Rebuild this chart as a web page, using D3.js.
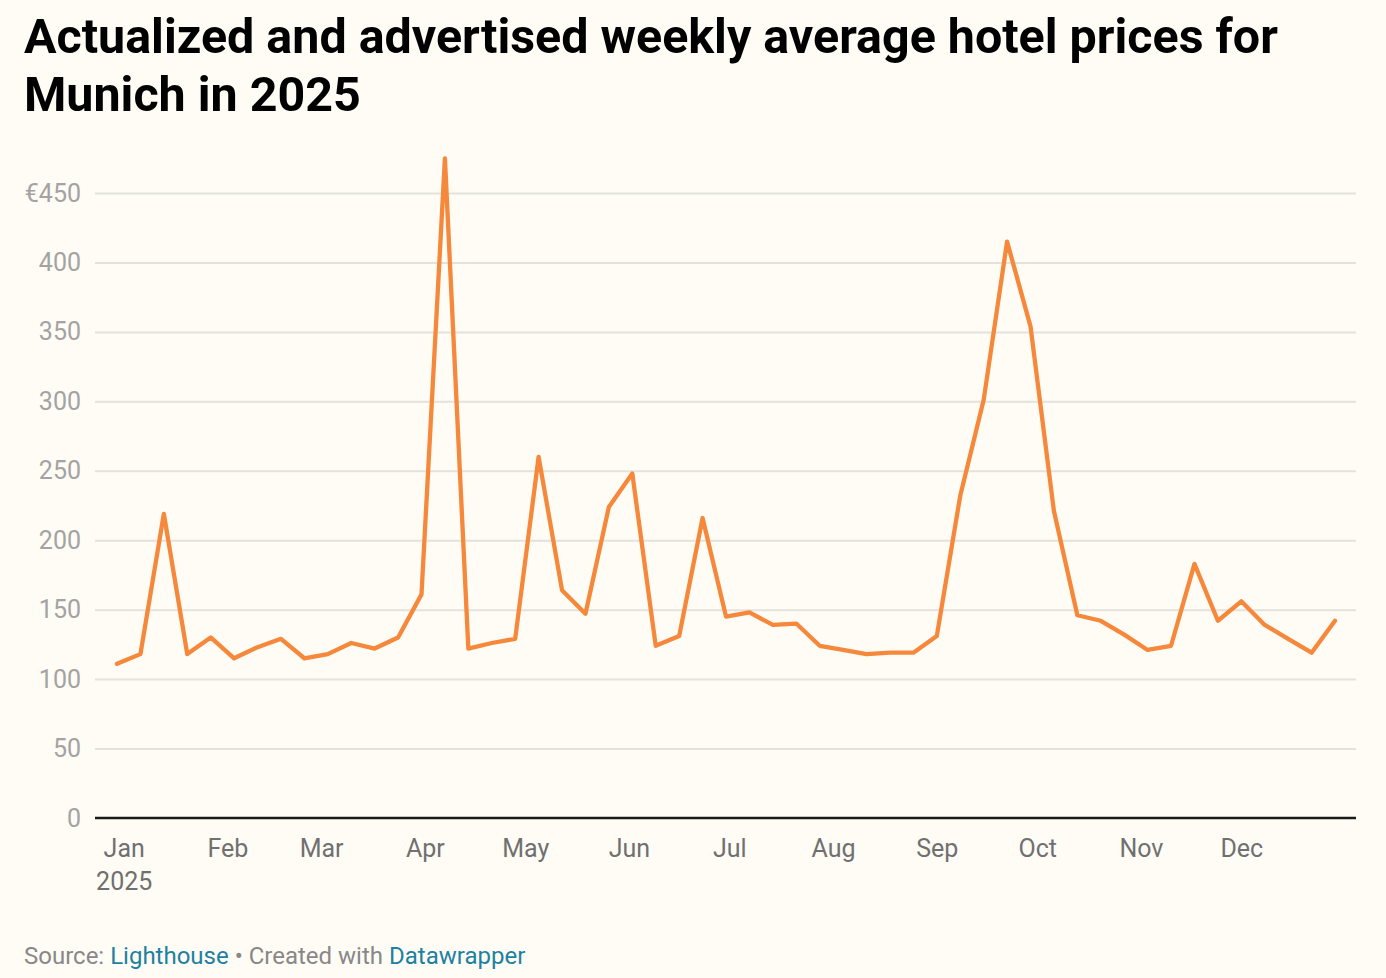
<!DOCTYPE html>
<html>
<head>
<meta charset="utf-8">
<script src="https://cdn.jsdelivr.net/npm/d3@7"></script>
<style>
  body { margin: 0; background: #fffcf5; }
  svg { display: block; font-family: Roboto, "Noto Sans", sans-serif; }
</style>
</head>
<body>
<svg id="chart" width="1386" height="978"></svg>
<script>
// weekly averages, week starting on the Monday below
const weekStarts = [
  "2024-12-30", "2025-01-06", "2025-01-13", "2025-01-20", "2025-01-27",
  "2025-02-03", "2025-02-10", "2025-02-17", "2025-02-24",
  "2025-03-03", "2025-03-10", "2025-03-17", "2025-03-24", "2025-03-31",
  "2025-04-07", "2025-04-14", "2025-04-21", "2025-04-28",
  "2025-05-05", "2025-05-12", "2025-05-19", "2025-05-26",
  "2025-06-02", "2025-06-09", "2025-06-16", "2025-06-23", "2025-06-30",
  "2025-07-07", "2025-07-14", "2025-07-21", "2025-07-28",
  "2025-08-04", "2025-08-11", "2025-08-18", "2025-08-25",
  "2025-09-01", "2025-09-08", "2025-09-15", "2025-09-22", "2025-09-29",
  "2025-10-06", "2025-10-13", "2025-10-20", "2025-10-27",
  "2025-11-03", "2025-11-10", "2025-11-17", "2025-11-24",
  "2025-12-01", "2025-12-08", "2025-12-15", "2025-12-22", "2025-12-29"
];

const prices = [
  111, 118, 219, 118, 130,
  115, 123, 129, 115,
  118, 126, 122, 130, 161,
  475, 122, 126, 129,
  260, 164, 147, 224,
  248, 124, 131, 216, 145,
  148, 139, 140, 124,
  121, 118, 119, 119,
  131, 232, 301, 415, 354,
  221, 146, 142, 132,
  121, 124, 183, 142,
  156, 139, 129, 119, 142
];

const yTicks = [0, 50, 100, 150, 200, 250, 300, 350, 400, 450];
const monthLabels = ["Jan", "Feb", "Mar", "Apr", "May", "Jun",
                     "Jul", "Aug", "Sep", "Oct", "Nov", "Dec"];
const titleLines = ["Actualized and advertised weekly average hotel prices for",
                    "Munich in 2025"];

const parse = d3.timeParse("%Y-%m-%d");
const data = weekStarts.map((d, i) => ({date: parse(d), value: prices[i]}));

const plot = {left: 95, right: 1356, top: 193, bottom: 818, pad: 22};

const x = d3.scaleTime()
  .domain(d3.extent(data, d => d.date))
  .range([plot.left + plot.pad, plot.right - plot.pad + 1]);

const y = d3.scaleLinear()
  .domain([0, 450])
  .range([plot.bottom, plot.top]);

const svg = d3.select("#chart");

svg.append("rect")
  .attr("width", 1386).attr("height", 978)
  .attr("fill", "#fffcf5");

// title
svg.append("g")
  .selectAll("text")
  .data(titleLines).enter()
  .append("text")
  .attr("x", 24)
  .attr("y", (d, i) => 53 + i * 58)
  .attr("font-size", 48.4)
  .attr("font-weight", 700)
  .attr("fill", "#000")
  .text(d => d);

// y axis + gridlines
let yAxis = svg.append("g")
  .attr("transform", `translate(${plot.left},0)`)
  .call(d3.axisLeft(y)
    .tickValues(yTicks)
    .tickSize(-(plot.right - plot.left))
    .tickPadding(14)
    .tickFormat(d => d === 450 ? "€450" : d));

yAxis.select(".domain").remove();
yAxis.selectAll(".tick line")
  .attr("stroke", "#e4e2dd")
  .attr("stroke-width", 2);
yAxis.selectAll(".tick text")
  .attr("font-size", 25)
  .attr("font-family", "Roboto")
  .attr("fill", "#a3a3a3");

// baseline
svg.append("line")
  .attr("x1", plot.left).attr("x2", plot.right)
  .attr("y1", y(0)).attr("y2", y(0))
  .attr("stroke", "#1a1a1a")
  .attr("stroke-width", 2.5);
yAxis.selectAll(".tick").filter(d => d === 0).select("line").remove();

// x axis
const months = d3.timeMonth.range(new Date(2025, 0, 1), new Date(2026, 0, 1));
let xAxis = svg.append("g")
  .attr("transform", `translate(0,${plot.bottom})`)
  .call(d3.axisBottom(x)
    .tickValues(months)
    .tickSize(0)
    .tickPadding(21)
    .tickFormat(d => monthLabels[d.getMonth()]));

xAxis.select(".domain").remove();
xAxis.selectAll(".tick text")
  .attr("font-size", 25)
  .attr("font-family", "Roboto")
  .attr("fill", "#707070");

xAxis.selectAll(".tick")
  .filter(d => d.getMonth() === 0)
  .append("text")
  .attr("y", 72)
  .attr("font-size", 25)
  .attr("font-family", "Roboto")
  .attr("fill", "#707070")
  .text("2025");

// price line
svg.append("path")
  .datum(data)
  .attr("fill", "none")
  .attr("stroke", "#f5883b")
  .attr("stroke-width", 4.3)
  .attr("stroke-linejoin", "round")
  .attr("stroke-linecap", "round")
  .attr("d", d3.line()
    .x(d => x(d.date))
    .y(d => y(d.value)));

// footer
let footer = svg.append("text")
  .attr("x", 24)
  .attr("y", 964)
  .attr("font-size", 24)
  .attr("fill", "#888");
footer.append("tspan").text("Source: ");
footer.append("tspan").attr("fill", "#1d81a2").text("Lighthouse");
footer.append("tspan").text(" • Created with ");
footer.append("tspan").attr("fill", "#1d81a2").text("Datawrapper");
</script>
</body>
</html>
